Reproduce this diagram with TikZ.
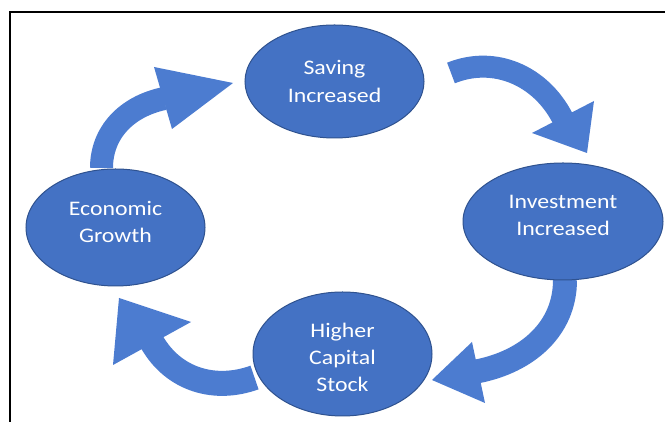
\documentclass[tikz,border=0pt]{standalone}
\usepackage{fontspec}
\setmainfont{Carlito}[FakeStretch=1.15]
\usetikzlibrary{shapes.geometric}
\definecolor{bubblefill}{RGB}{68,114,196}
\definecolor{bubbleedge}{RGB}{47,82,143}
\definecolor{arrowblue}{RGB}{76,124,208}
\tikzset{
  bubble/.style={ellipse, fill=bubblefill, draw=bubbleedge, line width=1pt,
    inner sep=0pt},
  caption/.style={text=white, align=center, inner sep=0pt,
    font=\fontsize{20.7}{27.3}\selectfont},
  band/.style={draw=arrowblue, line cap=butt, shorten >=-2pt},
  arrowhead/.style={fill=arrowblue},
  frameline/.style={draw=black, line width=2pt}
}
\begin{document}
\begin{tikzpicture}[x=1pt,y=1pt]
\useasboundingbox (0,0) rectangle (665,422);
\fill[white] (0,0) rectangle (665,422);

% open frame: left and top edges
\coordinate (fbl) at (10,0);
\coordinate (ftl) at (10,410);
\coordinate (ftr) at (665,410);
\draw[frameline] (fbl) -- (ftl) -- (ftr);

% curved block arrows: band ends and arrowhead corners
\coordinate (a1s) at (101.5,254);
\coordinate (a1e) at (162,323);
\coordinate (h1a) at (154,355);
\coordinate (h1t) at (233,339);
\coordinate (h1b) at (172,293);

\coordinate (a2s) at (451,349);
\coordinate (a2e) at (562,305);
\coordinate (h2a) at (594,321);
\coordinate (h2t) at (587,269);
\coordinate (h2b) at (532,289);

\coordinate (a3s) at (565,142);
\coordinate (a3e) at (479,51);
\coordinate (h3a) at (472,80);
\coordinate (h3t) at (432,42);
\coordinate (h3b) at (485,19);

\coordinate (a4s) at (254.5,44.5);
\coordinate (a4e) at (153,78);
\coordinate (h4a) at (191,100);
\coordinate (h4t) at (119,124);
\coordinate (h4b) at (113,57);

\draw[band, line width=23pt] (a1s) to[out=90,in=192] (a1e);
\fill[arrowhead] (h1a) -- (h1t) -- (h1b) -- cycle;

\draw[band, line width=22pt] (a2s) to[out=22,in=117] (a2e);
\fill[arrowhead] (h2a) -- (h2t) -- (h2b) -- cycle;

\draw[band, line width=24pt] (a3s) to[out=-90,in=11] (a3e);
\fill[arrowhead] (h3a) -- (h3t) -- (h3b) -- cycle;

\draw[band, line width=25pt] (a4s) to[out=200,in=300] (a4e);
\fill[arrowhead] (h4a) -- (h4t) -- (h4b) -- cycle;

% the four stages of the cycle
\node[bubble, minimum width=179pt, minimum height=113pt,
  label={[caption]center:Saving\\Increased}] (saving) at (334.5,340.5) {};
\node[bubble, minimum width=200pt, minimum height=117pt,
  label={[caption, yshift=6pt]center:Investment\\Increased}] (invest) at (563,200.5) {};
\node[bubble, minimum width=179pt, minimum height=124pt,
  label={[caption, yshift=-3.5pt]center:Higher\\Capital\\Stock}] (capital) at (342.5,68) {};
\node[bubble, minimum width=179pt, minimum height=117pt,
  label={[caption, yshift=5.5pt]center:Economic\\Growth}] (growth) at (115.5,194.5) {};
\end{tikzpicture}
\end{document}
